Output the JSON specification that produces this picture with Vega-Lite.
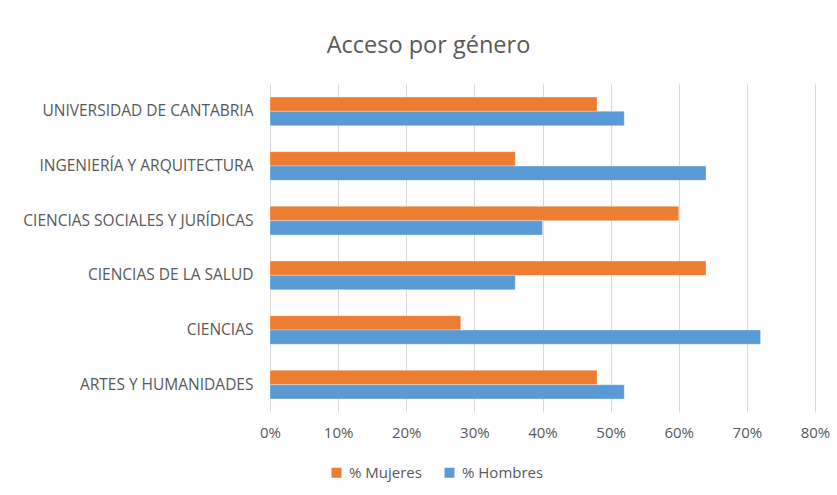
{
  "$schema": "https://vega.github.io/schema/vega-lite/v6.json",
  "width": 545,
  "height": 328,
  "autosize": {"type": "none"},
  "padding": {"left": 270, "top": 84, "right": 22, "bottom": 83},
  "background": "white",
  "title": {
    "text": "Acceso por género",
    "anchor": "middle",
    "frame": "group",
    "dx": -114,
    "offset": 27,
    "fontSize": 23.5,
    "font": "Open Sans",
    "fontWeight": "normal",
    "color": "#595959"
  },
  "data": {
    "values": [
      {"area": "UNIVERSIDAD DE CANTABRIA", "serie": "% Mujeres", "valor": 0.48},
      {"area": "UNIVERSIDAD DE CANTABRIA", "serie": "% Hombres", "valor": 0.52},
      {"area": "INGENIERÍA Y ARQUITECTURA", "serie": "% Mujeres", "valor": 0.36},
      {"area": "INGENIERÍA Y ARQUITECTURA", "serie": "% Hombres", "valor": 0.64},
      {"area": "CIENCIAS SOCIALES Y JURÍDICAS", "serie": "% Mujeres", "valor": 0.60},
      {"area": "CIENCIAS SOCIALES Y JURÍDICAS", "serie": "% Hombres", "valor": 0.40},
      {"area": "CIENCIAS DE LA SALUD", "serie": "% Mujeres", "valor": 0.64},
      {"area": "CIENCIAS DE LA SALUD", "serie": "% Hombres", "valor": 0.36},
      {"area": "CIENCIAS", "serie": "% Mujeres", "valor": 0.28},
      {"area": "CIENCIAS", "serie": "% Hombres", "valor": 0.72},
      {"area": "ARTES Y HUMANIDADES", "serie": "% Mujeres", "valor": 0.48},
      {"area": "ARTES Y HUMANIDADES", "serie": "% Hombres", "valor": 0.52}
    ]
  },
  "mark": {"type": "bar", "stroke": "white", "strokeWidth": 0.5, "strokeOpacity": 0.6},
  "encoding": {
    "y": {
      "field": "area",
      "type": "nominal",
      "sort": ["UNIVERSIDAD DE CANTABRIA", "INGENIERÍA Y ARQUITECTURA", "CIENCIAS SOCIALES Y JURÍDICAS", "CIENCIAS DE LA SALUD", "CIENCIAS", "ARTES Y HUMANIDADES"],
      "scale": {"paddingInner": 0.477, "paddingOuter": 0.2385},
      "axis": {
        "title": null,
        "domain": false,
        "ticks": false,
        "labelPadding": 17,
        "labelFont": "Open Sans",
        "labelFontSize": 15.5,
        "labelColor": "#595959",
        "labelLimit": 300
      }
    },
    "yOffset": {
      "field": "serie",
      "type": "nominal",
      "sort": ["% Mujeres", "% Hombres"]
    },
    "x": {
      "field": "valor",
      "type": "quantitative",
      "scale": {"domain": [0, 0.8], "nice": false},
      "axis": {
        "title": null,
        "format": ".0%",
        "values": [0, 0.1, 0.2, 0.3, 0.4, 0.5, 0.6, 0.7, 0.8],
        "domain": false,
        "ticks": false,
        "grid": true,
        "gridColor": "#D9D9D9",
        "gridWidth": 1,
        "labelPadding": 13,
        "labelFont": "Open Sans",
        "labelFontSize": 15,
        "labelColor": "#595959",
        "labelFlush": false
      }
    },
    "color": {
      "field": "serie",
      "type": "nominal",
      "scale": {"domain": ["% Mujeres", "% Hombres"], "range": ["#ED7D31", "#5B9BD5"]},
      "legend": {
        "title": null,
        "orient": "none",
        "direction": "horizontal",
        "legendX": 59,
        "legendY": 381,
        "symbolType": "square",
        "symbolSize": 100,
        "symbolStrokeWidth": 0,
        "labelFont": "Open Sans",
        "labelFontSize": 15,
        "labelColor": "#595959",
        "labelOffset": 5,
        "columnPadding": 20
      }
    }
  },
  "config": {
    "view": {"stroke": null}
  }
}
